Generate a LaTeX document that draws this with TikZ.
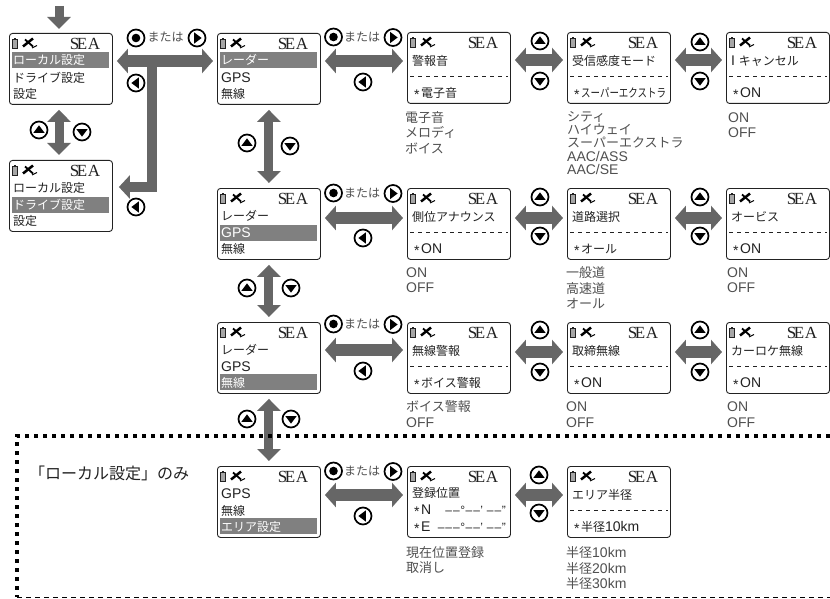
\documentclass[tikz,border=0pt]{standalone}
\usepackage{fontspec}
\setmainfont{Liberation Sans}
\newfontfamily\cjk{Noto Sans CJK JP}
\newfontfamily\serifsea{Liberation Serif}
\usetikzlibrary{arrows.meta,calc}
\newcommand\J[1]{{\cjk\fontsize{12}{14}\selectfont #1}}
\newcommand\K[1]{{\cjk\fontsize{13}{15}\selectfont #1}}
\newcommand\astk{\raisebox{-2.2pt}{*}\kern1.5pt}
\newcommand\dd{\kern0.5pt–\kern0.5pt}
\definecolor{arrowgray}{HTML}{666666}
\definecolor{hlgray}{HTML}{808080}
\definecolor{listgray}{HTML}{505050}
\definecolor{inkdark}{HTML}{222222}
\tikzset{
  screenbox/.style={draw=inkdark,line width=0.9pt,rounded corners=3pt,minimum width=103pt,minimum height=71pt,inner sep=0pt,anchor=north west},
  rowtext/.style={anchor=west,inner sep=0pt,text height=10pt,text depth=1pt,font=\fontsize{14}{16}\selectfont},
  listtext/.style={anchor=west,inner sep=0pt,text height=10pt,text depth=1pt,text=listgray,font=\fontsize{14}{15}\selectfont},
  seatext/.style={anchor=center,inner sep=0pt,text=inkdark,font=\serifsea\fontsize{17}{18}\selectfont},
  bigh/.style={draw=arrowgray,line width=12pt,{Triangle[length=11pt,width=24pt,fill=arrowgray]}-{Triangle[length=11pt,width=24pt,fill=arrowgray]},shorten <=4pt,shorten >=4pt},
  bigv/.style={draw=arrowgray,line width=9pt,{Triangle[length=12pt,width=23pt,fill=arrowgray]}-{Triangle[length=12pt,width=23pt,fill=arrowgray]},shorten <=5pt,shorten >=5pt},
  btnring/.style={draw=black,line width=1.7pt,fill=white},
  pics/btnup/.style={code={\draw[btnring] (0,0) circle (8.5pt);\fill[black] (-5.6,2.8)--(5.6,2.8)--(0,-4.6)--cycle;}},
  pics/btndown/.style={code={\draw[btnring] (0,0) circle (8.5pt);\fill[black] (-5.6,-2.8)--(5.6,-2.8)--(0,4.6)--cycle;}},
  pics/btnleft/.style={code={\draw[btnring] (0,0) circle (8.5pt);\fill[black] (2.8,-5.6)--(2.8,5.6)--(-4.6,0)--cycle;}},
  pics/btnright/.style={code={\draw[btnring] (0,0) circle (8.5pt);\fill[black] (-2.8,-5.6)--(-2.8,5.6)--(4.6,0)--cycle;}},
  pics/btnok/.style={code={\draw[btnring] (0,0) circle (8.5pt);\fill[black] (0,0) circle (4.3pt);}},
}
% frame and status line of a screen
\newcommand\scrframe[3]{%
  \node[screenbox] (#1) at (#2,#3) {};
  \draw[draw=inkdark,fill=hlgray!70,line width=0.5pt] ($(#1.north west)+(3.5,6)$) rectangle ($(#1.north west)+(8.5,15)$);
  \fill[inkdark] ($(#1.north west)+(5,4.8)$) rectangle ($(#1.north west)+(7,6)$);
  \draw[black,line width=2.5pt] ($(#1.north west)+(14,13.5)$) -- ($(#1.north west)+(24,5.5)$);
  \draw[black,line width=1.8pt] ($(#1.north west)+(16,6.5)$) -- ($(#1.north west)+(24,13.5)$);
  \draw[black,line width=1pt] ($(#1.north west)+(23,15)$) -- ($(#1.north west)+(28,12.5)$);
  \node[seatext] (#1-sea) at ($(#1.north west)+(76,10.5)$) {S\kern-2.5pt E\kern0.5pt A};
}
% menu screen: name, x, y, highlighted row, rows
\newcommand\menuscr[7]{%
  \scrframe{#1}{#2}{#3}
  \ifcase#4\or
    \fill[hlgray] ($(#1.north west)+(3,19)$) rectangle ($(#1.north west)+(100,35)$);\or
    \fill[hlgray] ($(#1.north west)+(3,37)$) rectangle ($(#1.north west)+(100,53)$);\or
    \fill[hlgray] ($(#1.north west)+(3,52)$) rectangle ($(#1.north west)+(100,68)$);\fi
  \ifnum#4=1 \def\tca{white}\else\def\tca{inkdark}\fi
  \ifnum#4=2 \def\tcb{white}\else\def\tcb{inkdark}\fi
  \ifnum#4=3 \def\tcc{white}\else\def\tcc{inkdark}\fi
  \node[rowtext,text=\tca] (#1-a) at ($(#1.north west)+(4,27.5)$) {#5};
  \node[rowtext,text=\tcb] (#1-b) at ($(#1.north west)+(4,45)$) {#6};
  \node[rowtext,text=\tcc] (#1-c) at ($(#1.north west)+(4,61)$) {#7};
}
% setting screen: name, x, y, title, value
\newcommand\setscr[5]{%
  \scrframe{#1}{#2}{#3}
  \node[rowtext,text=inkdark] (#1-t) at ($(#1.north west)+(5,29)$) {#4};
  \draw[inkdark,line width=0.8pt,dash pattern=on 4pt off 4pt] ($(#1.north west)+(3,44)$) -- ($(#1.north west)+(101,44)$);
  \node[rowtext,text=inkdark] (#1-v) at ($(#1.north west)+(7,61)$) {\astk#5};
}
% list under a screen
\newcommand\optlist[5]{%
  \foreach \itm [count=\idx] in {#5} {
    \node[listtext] (#1-\idx) at (#2,{#3+#4*(\idx-1)}) {\itm};
  }
}
\newcommand\harrow[3]{\draw[bigh] (#1.east |- 0,#3) -- (#2.west |- 0,#3);}
\newcommand\orlabel[4]{%
  \pic at (#2-28.5,#3) {btnok};
  \node[inner sep=0pt,text=listgray] (#1) at (#2,#3) {\J{または}};
  \pic at (#2+31,#3+0.5) {btnright};
  \pic at (#2+1,#4) {btnleft};
}
\newcommand\updown[4]{\pic at (#1,#2) {btnup};\pic at (#3,#4) {btndown};}
\begin{document}
\begin{tikzpicture}[x=1pt,y=-1pt]
\useasboundingbox (0,0) rectangle (830,599);
\fill[white] (0,0) rectangle (830,599);

% left column
\menuscr{ma}{9}{33}{1}{\J{ローカル設定}}{\J{ドライブ設定}}{\J{設定}}
\menuscr{mb}{9}{160}{2}{\J{ローカル設定}}{\J{ドライブ設定}}{\J{設定}}
% menu column
\menuscr{r1a}{217}{33}{1}{\J{レーダー}}{GPS}{\J{無線}}
\menuscr{r2a}{217}{188}{2}{\J{レーダー}}{GPS}{\J{無線}}
\menuscr{r3a}{217}{322}{3}{\J{レーダー}}{GPS}{\J{無線}}
\menuscr{r4a}{217}{466}{3}{GPS}{\J{無線}}{\J{エリア設定}}
% settings
\setscr{r1b}{407}{32}{\J{警報音}}{\J{電子音}}
\setscr{r1c}{567}{32}{\J{受信感度モード}}{\scalebox{0.79}[1]{\J{スーパーエクストラ}}}
\setscr{r1d}{726}{32}{I \J{キャンセル}}{ON}
\setscr{r2b}{407}{188}{\J{側位アナウンス}}{ON}
\setscr{r2c}{567}{188}{\J{道路選択}}{\J{オール}}
\setscr{r2d}{726}{188}{\J{オービス}}{ON}
\setscr{r3b}{407}{322}{\J{無線警報}}{\J{ボイス警報}}
\setscr{r3c}{567}{322}{\J{取締無線}}{ON}
\setscr{r3d}{726}{322}{\J{カーロケ無線}}{ON}
\setscr{r4c}{567}{466}{\J{エリア半径}}{\J{半径}10km}
% position screen
\scrframe{r4b}{407}{466}
\node[rowtext,text=inkdark] (r4b-t) at ($(r4b.north west)+(5,27)$) {\J{登録位置}};
\node[rowtext,text=inkdark] (r4b-n) at ($(r4b.north west)+(7,44)$) {\astk N};
\node[rowtext,text=inkdark] (r4b-e) at ($(r4b.north west)+(7,61)$) {\astk E};
\node[rowtext,text=inkdark,anchor=east] (r4b-nv) at ($(r4b.north west)+(99,44)$) {\fontsize{12}{13}\selectfont \dd\dd°\dd\dd’ \dd\dd”};
\node[rowtext,text=inkdark,anchor=east] (r4b-ev) at ($(r4b.north west)+(99,61)$) {\fontsize{12}{13}\selectfont \dd\dd\dd°\dd\dd’ \dd\dd”};

% lists
\optlist{l1b}{405}{118}{15.5}{\K{電子音},\K{メロディ},\K{ボイス}}
\optlist{l1c}{567}{117}{13.2}{\K{シティ},\K{ハイウェイ},\K{スーパーエクストラ},AAC/ASS,AAC/SE}
\optlist{l1d}{728}{118}{15}{ON,OFF}
\optlist{l2b}{406}{273}{15}{ON,OFF}
\optlist{l2c}{566}{273}{15.5}{\K{一般道},\K{高速道},\K{オール}}
\optlist{l2d}{727}{273}{15}{ON,OFF}
\optlist{l3b}{406}{407}{16}{\K{ボイス警報},OFF}
\optlist{l3c}{566}{407}{16}{ON,OFF}
\optlist{l3d}{727}{407}{16}{ON,OFF}
\optlist{l4b}{406}{553}{15}{\K{現在位置登録},\K{取消し}}
\optlist{l4c}{566}{553}{15.5}{\K{半径}10km,\K{半径}20km,\K{半径}30km}

% big arrows
\coordinate (entry) at (59,6);
\draw[draw=arrowgray,line width=9pt,-{Triangle[length=12pt,width=23pt,fill=arrowgray]},shorten >=4pt] (entry) -- (ma.north -| entry);
\draw[bigv] (ma.south -| entry) -- (mb.north -| entry);
\coordinate (branch) at (152,61);
\harrow{ma}{r1a}{61}
\draw[draw=arrowgray,line width=10pt,-{Triangle[length=11pt,width=23pt,fill=arrowgray]},shorten >=6pt] (branch) |- (mb.east |- 0,187);
\draw[bigv] (r1a.south) -- (r2a.north);
\draw[bigv] (r2a.south) -- (r3a.north);
\draw[bigv] (r3a.south) -- (r4a.north);
\harrow{r1b}{r1c}{60}
\harrow{r1c}{r1d}{60}
\harrow{r1a}{r1b}{61}
\harrow{r2a}{r2b}{218}
\harrow{r2b}{r2c}{218}
\harrow{r2c}{r2d}{218}
\harrow{r3a}{r3b}{350}
\harrow{r3b}{r3c}{352}
\harrow{r3c}{r3d}{352}
\harrow{r4a}{r4b}{495}
\harrow{r4b}{r4c}{495}

% buttons
\pic at (136,38) {btnok};
\node[inner sep=0pt,text=listgray] (or0) at (165.5,37) {\J{または}};
\pic at (197,38) {btnright};
\pic at (136,83) {btnleft};
\pic at (136,207) {btnleft};
\updown{39}{130}{82}{132}
\orlabel{or1}{362}{37}{82}
\orlabel{or2}{362}{193}{238}
\orlabel{or3}{362}{324}{371}
\orlabel{or4}{362}{471}{516}
\updown{247}{143}{290}{146}
\updown{247}{288}{291}{288}
\updown{247}{419}{291}{419}
\updown{540}{41}{540}{81}
\updown{700}{42}{700}{81}
\updown{540}{197}{540}{236}
\updown{700}{197}{700}{236}
\updown{540}{330}{540}{372}
\updown{700}{330}{700}{372}
\updown{539}{475}{539}{513}

% region
\node[anchor=west,inner sep=0pt,text=inkdark] (only) at (29,473) {\cjk\fontsize{16}{18}\selectfont 「ローカル設定」のみ};
\draw[black,line width=4pt,dash pattern=on 4pt off 5pt] (830,436) -- (17,436) -- (17,597);
\draw[black,line width=1pt,dash pattern=on 5pt off 4pt] (17,597.8) -- (830,597.8);
\end{tikzpicture}
\end{document}
